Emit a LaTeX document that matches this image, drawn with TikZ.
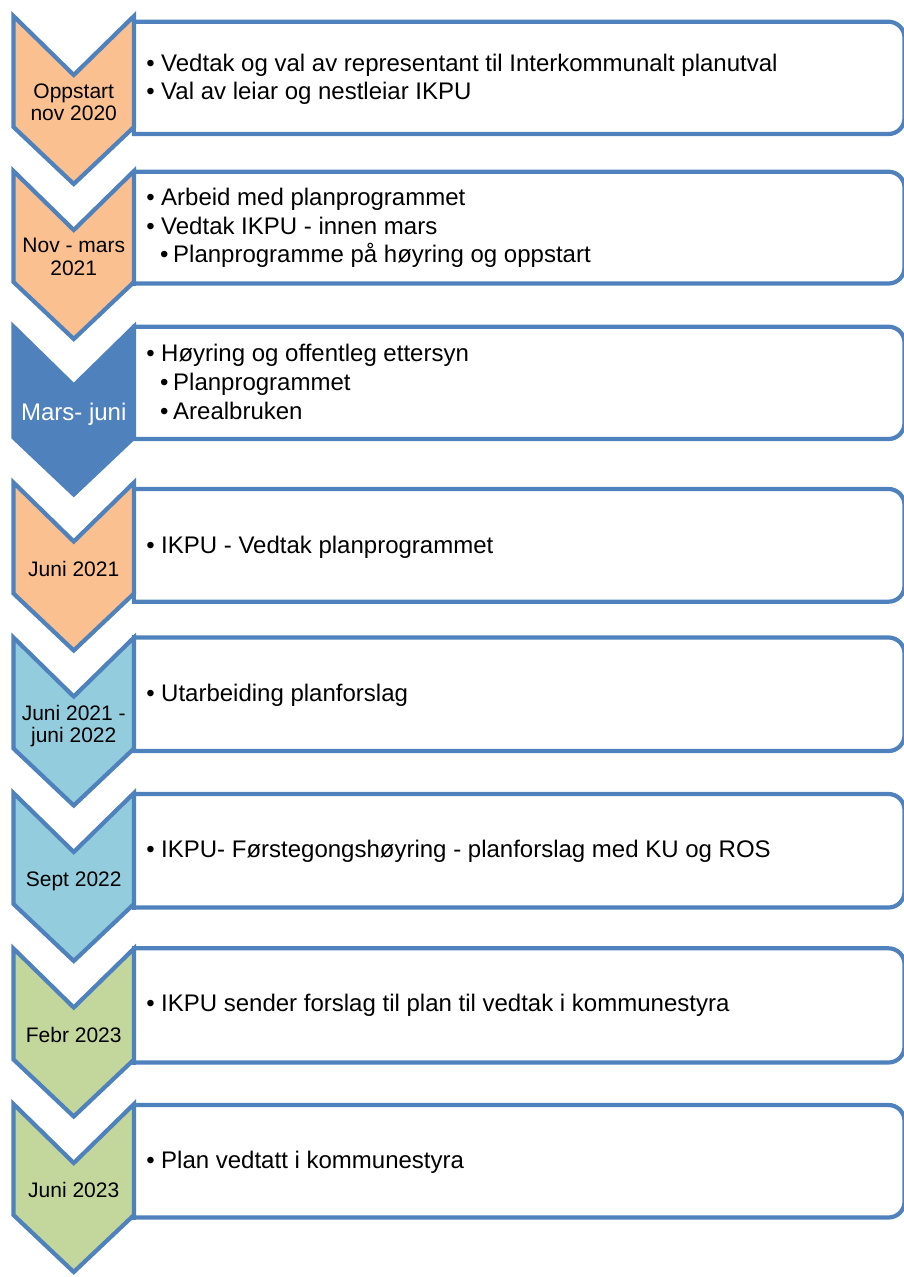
\documentclass[tikz,border=0pt]{standalone}
\usepackage{fontspec}
\setmainfont{Liberation Sans}
\definecolor{edgeblue}{HTML}{4F81BD}
\definecolor{peach}{HTML}{FAC090}
\definecolor{sky}{HTML}{93CDDD}
\definecolor{sage}{HTML}{C3D69B}
\newcommand\bulA{\makebox[14.8pt][l]{•}}
\newcommand\bulB{\makebox[13.2pt][l]{•}}
\tikzset{
  chev/.style={draw=edgeblue, line width=4.2pt, line join=miter},
  boxline/.style={draw=edgeblue, line width=4.2pt, line cap=rect},
  lab/.style={font=\fontsize{21}{22.2}\selectfont, align=center, inner sep=0pt, anchor=base},
  itm/.style={font=\fontsize{24}{28.5}\selectfont, inner sep=0pt, anchor=base west},
}
\begin{document}
\begin{tikzpicture}[x=1pt,y=-1pt]
\useasboundingbox (0,0) rectangle (903,1277);
% boxes
\foreach \bt/\bb in {21.7/134, 171.7/283.5, 326.7/439, 489/601.7, 637.5/751, 794/907.5, 948.3/1062.5, 1105/1217.5}{
  \draw[boxline, rounded corners=16pt] (134,\bb) -- (904.5,\bb) -- (904.5,\bt) -- (134,\bt);
  \draw[boxline] (134,\bt) -- (134,\bb);
}
% chevrons
\foreach \t/\c in {16/peach, 171/peach, 326.5/edgeblue, 482.5/peach, 637.5/sky, 793/sky, 948.5/sage, 1104/sage}{
  \draw[chev, fill=\c] (13.5,\t) -- (73.75,\t+59) -- (134,\t) -- (134,\t+111) -- (73.75,\t+168) -- (13.5,\t+111) -- cycle;
}
% chevron labels (base anchor = baseline of last line)
\node[lab] (c1) at (73.75,120.7) {Oppstart\\nov 2020};
\node[lab] (c2) at (73.75,275) {Nov - mars\\2021};
\node[lab, text=white, font=\fontsize{24}{26}\selectfont] (c3) at (73.75,420) {Mars- juni};
\node[lab] (c4) at (73.75,576) {Juni 2021};
\node[lab] (c5) at (73.75,742.7) {Juni 2021 -\\juni 2022};
\node[lab] (c6) at (73.75,886.7) {Sept 2022};
\node[lab] (c7) at (73.75,1042.7) {Febr 2023};
\node[lab] (c8) at (73.75,1197.5) {Juni 2023};
% items
\node[itm] (r1a) at (146.2,71) {\bulA Vedtak og val av representant til Interkommunalt planutval};
\node[itm] (r1b) at (146.2,99.5) {\bulA Val av leiar og nestleiar IKPU};
\node[itm] (r2a) at (146.2,205.5) {\bulA Arbeid med planprogrammet};
\node[itm] (r2b) at (146.2,234) {\bulA Vedtak IKPU - innen mars};
\node[itm] (r2c) at (159.8,262) {\bulB Planprogramme på høyring og oppstart};
\node[itm] (r3a) at (146.2,361.7) {\bulA Høyring og offentleg ettersyn};
\node[itm] (r3b) at (159.8,390) {\bulB Planprogrammet};
\node[itm] (r3c) at (159.8,419) {\bulB Arealbruken};
\node[itm] (r4a) at (146.2,553.3) {\bulA IKPU - Vedtak planprogrammet};
\node[itm] (r5a) at (146.2,701.7) {\bulA Utarbeiding planforslag};
\node[itm] (r6a) at (146.2,857.5) {\bulA IKPU- Førstegongshøyring - planforslag med KU og ROS};
\node[itm] (r7a) at (146.2,1011.7) {\bulA IKPU sender forslag til plan til vedtak i kommunestyra};
\node[itm] (r8a) at (146.2,1168.3) {\bulA Plan vedtatt i kommunestyra};
\end{tikzpicture}
\end{document}
